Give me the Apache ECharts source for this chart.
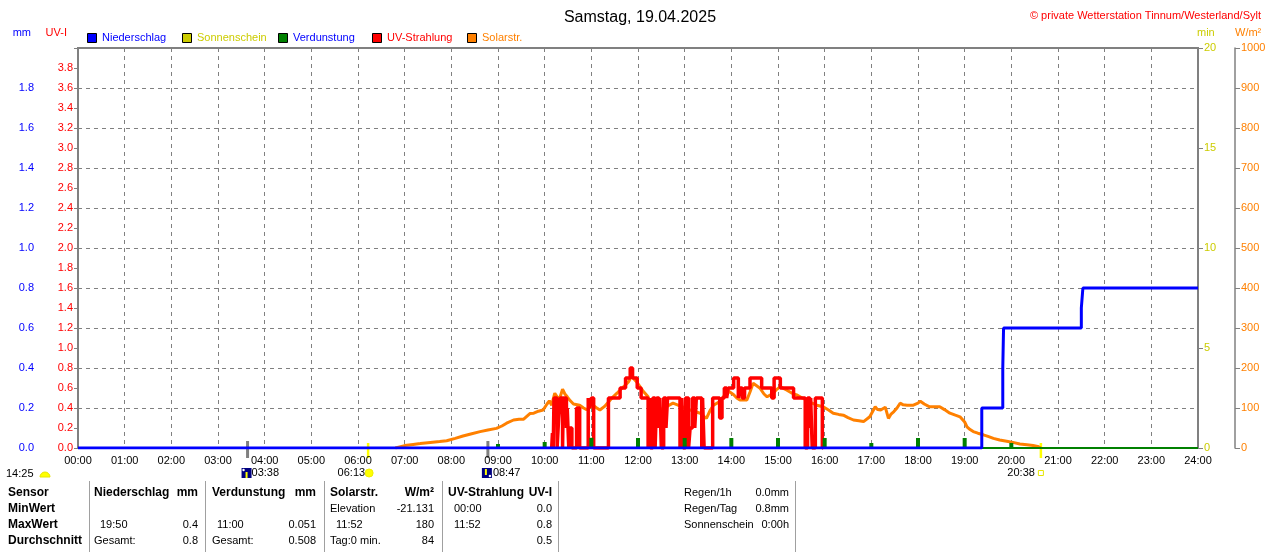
<!DOCTYPE html>
<html><head><meta charset="utf-8">
<script src="https://cdn.jsdelivr.net/npm/echarts@6/dist/echarts.min.js"></script>
<style>html,body{margin:0;padding:0;background:#fff}#c{width:1280px;height:552px}</style>
</head><body><div id="c"></div>
<script>
// ---------- data ----------
const xTickLabels = ['00:00','01:00','02:00','03:00','04:00','05:00','06:00','07:00','08:00','09:00','10:00','11:00','12:00','13:00','14:00','15:00','16:00','17:00','18:00','19:00','20:00','21:00','22:00','23:00','24:00'];

// Niederschlag (cumulative, mm)
const precipTimes  = ['00:00','19:22','19:49','19:50','21:30','21:32','24:00'];
const precipValues = [0, 0.2, 0.4, 0.6, 0.7, 0.8, 0.8];

// Verdunstung (hourly, mm)
const evapTimes  = ['09:00','10:00','11:00','12:00','13:00','14:00','15:00','16:00','17:00','18:00','19:00','20:00'];
const evapValues = [0.02, 0.03, 0.051, 0.05, 0.05, 0.05, 0.05, 0.05, 0.025, 0.05, 0.05, 0.025];

// Solarstrahlung (W/m²)
const solarTimes  = ['06:48','06:50','07:00','07:11','07:20','07:33','07:45','07:54','08:05','08:15','08:25','08:37','08:47','08:58','09:05','09:11','09:20','09:27','09:33','09:41','09:46','09:52','09:58','10:03','10:06','10:09','10:13','10:17','10:20','10:23','10:26','10:29','10:33','10:37','10:45','10:50','10:54','11:02','11:07','11:11','11:17','11:22','11:28','11:33','11:37','11:43','11:48','11:52','11:55','11:58','12:03','12:07','12:13','12:17','12:22','12:28','12:36','12:45','12:53','13:02','13:10','13:20','13:24','13:28','13:33','13:37','13:45','13:50','13:54','13:58','14:03','14:07','14:11','14:20','14:24','14:28','14:33','14:37','14:42','14:46','14:54','14:58','15:03','15:07','15:11','15:17','15:24','15:30','15:37','15:44','15:50','15:58','16:05','16:11','16:18','16:24','16:30','16:37','16:44','16:50','16:58','17:05','17:08','17:12','17:18','17:20','17:22','17:25','17:29','17:33','17:37','17:41','17:46','17:54','18:00','18:03','18:08','18:15','18:22','18:28','18:34','18:41','18:48','18:54','19:00','19:03','19:07','19:11','19:17','19:24','19:30','19:37','19:45','19:54','20:02','20:11','20:20','20:28','20:34','20:36','20:38'];
const solarValues = [0,5,6,9,11,14,16,18,24,30,35,41,45,49,55,62,70,72,72,86,87,92,95,110,118,107,137,125,128,147,135,128,118,110,107,100,96,107,100,95,104,115,128,137,145,156,166,180,172,166,152,141,128,99,97,95,103,112,106,99,93,87,80,74,95,107,116,128,145,140,133,125,120,120,140,162,155,149,135,128,137,146,153,149,145,138,133,126,120,112,107,103,95,87,84,82,76,70,68,66,78,103,96,95,102,88,74,84,91,100,112,108,107,107,112,117,110,103,103,103,96,87,82,78,65,53,46,41,37,33,29,24,20,17,14,10,8,6,4,3,0];

// UV-Strahlung (UV-I)
const uvTimes  = ['10:09','10:10','10:11','10:12','10:16','10:18','10:20','10:23','10:24','10:28','10:29','10:31','10:32','10:35','10:41','10:45','10:56','10:58','11:00','11:03','11:22','11:37','11:44','11:50','11:53','11:59','12:04','12:13','12:15','12:16','12:19','12:22','12:24','12:27','12:28','12:30','12:33','12:36','12:38','12:54','12:56','12:58','13:01','13:05','13:07','13:10','13:13','13:15','13:22','13:23','13:25','13:36','13:45','13:48','13:51','13:54','13:56','14:03','14:09','14:11','14:14','14:17','14:24','14:39','14:52','14:55','15:03','15:20','15:35','15:38','15:41','15:42','15:44','15:48','15:57','15:58'];
const uvValues = [0,0.15,0,0.5,0,0.3,0.5,0,0.5,0.2,0.4,0,0.2,0,0.4,0,0.5,0.4,0.5,0,0.5,0.6,0.7,0.8,0.7,0.6,0.5,0,0.5,0,0.5,0,0.5,0.2,0.5,0,0.5,0.2,0.5,0,0.5,0,0.5,0,0.2,0.5,0.2,0.5,0,0.5,0,0.5,0.3,0.5,0.6,0.5,0.6,0.7,0.5,0.6,0.5,0.6,0.7,0.6,0.5,0.7,0.6,0.5,0,0.5,0.2,0.5,0,0.5,0,0];

// astronomical events
const dayLength = '14:25';
const moonrise = '03:38', sunrise = '06:13', moonset = '08:47', sunset = '20:38';

// ---------- helpers ----------
const toMin = s => { const p = s.split(':').map(Number); return p[0] * 60 + p[1]; };
const pairs = (ts, vs) => ts.map((t, i) => [toMin(t), vs[i]]);
const F = '"Liberation Sans", Arial, sans-serif';
const GRAY = '#808080';

const chart = echarts.init(document.getElementById('c'));

const option = {
  animation: false,
  backgroundColor: '#fff',
  title: [
    { text: 'Samstag, 19.04.2025', left: 'center', top: 5,
      textStyle: { fontSize: 16, fontWeight: 'normal', color: '#000', fontFamily: F } },
    { text: '© private Wetterstation Tinnum/Westerland/Sylt', right: 14, top: 5,
      textStyle: { fontSize: 11, fontWeight: 'normal', color: '#ff0000', fontFamily: F } }
  ],
  grid: { left: 78, right: 82, top: 48, bottom: 104, show: true, borderColor: GRAY, borderWidth: 2 },
  xAxis: {
    type: 'value', min: 0, max: 1440, interval: 60,
    axisLine: { show: false }, axisTick: { show: false },
    axisLabel: { color: '#000', fontSize: 11, fontFamily: F, margin: 7, showMinLabel: true, showMaxLabel: true,
      formatter: v => xTickLabels[Math.round(v / 60)] },
    splitLine: { show: true, lineStyle: { color: GRAY, type: [4, 4], width: 1 } }
  },
  yAxis: [
    { type: 'value', position: 'left', offset: 38, min: 0, max: 2, interval: 0.2,
      axisLine: { show: true, lineStyle: { color: GRAY, width: 2 } },
      axisTick: { show: true, length: 4, lineStyle: { color: GRAY } },
      axisLabel: { color: '#0000ff', fontSize: 11, fontFamily: F, margin: 6, formatter: v => v > 1.95 ? '' : v.toFixed(1) },
      splitLine: { show: true, lineStyle: { color: GRAY, type: [4, 4], width: 1 } } },
    { type: 'value', position: 'left', offset: 0, min: 0, max: 4, interval: 0.2,
      axisLine: { show: true, lineStyle: { color: GRAY, width: 2 } },
      axisTick: { show: true, length: 4, lineStyle: { color: GRAY } },
      axisLabel: { color: '#ff0000', fontSize: 11, fontFamily: F, margin: 5, formatter: v => v > 3.95 ? '' : v.toFixed(1) },
      splitLine: { show: false } },
    { type: 'value', position: 'right', offset: 0, min: 0, max: 20, interval: 5,
      axisLine: { show: true, lineStyle: { color: GRAY, width: 2 } },
      axisTick: { show: true, length: 5, lineStyle: { color: GRAY } },
      axisLabel: { color: '#cccc00', fontSize: 11, fontFamily: F, margin: 6, formatter: v => String(v) },
      splitLine: { show: false } },
    { type: 'value', position: 'right', offset: 37, min: 0, max: 1000, interval: 100,
      axisLine: { show: true, lineStyle: { color: GRAY, width: 1.5 } },
      axisTick: { show: true, length: 5, lineStyle: { color: GRAY } },
      axisLabel: { color: '#ff8000', fontSize: 11, fontFamily: F, margin: 6, formatter: v => String(v) },
      splitLine: { show: false } }
  ],
  series: [
    { name: 'Solarstr.', type: 'line', yAxisIndex: 3, showSymbol: false, z: 2,
      data: pairs(solarTimes, solarValues),
      lineStyle: { color: '#ff8000', width: 3 }, itemStyle: { color: '#ff8000' } },
    { name: 'UV-Strahlung', type: 'line', yAxisIndex: 1, showSymbol: false, step: 'end', z: 3,
      data: pairs(uvTimes, uvValues),
      lineStyle: { color: '#ff0000', width: 3.5 }, itemStyle: { color: '#ff0000' } },
    { name: 'Verdunstung', type: 'bar', yAxisIndex: 0, barWidth: 4, z: 4,
      data: pairs(evapTimes, evapValues),
      itemStyle: { color: '#008000' },
      markLine: { silent: true, symbol: 'none', label: { show: false },
        lineStyle: { color: '#008000', width: 2, type: 'solid' }, data: [{ yAxis: 0 }] } },
    { name: 'Niederschlag', type: 'line', yAxisIndex: 0, showSymbol: false, step: 'end', z: 5,
      data: pairs(precipTimes, precipValues),
      lineStyle: { color: '#0000ff', width: 3 }, itemStyle: { color: '#0000ff' } }
  ]
};
chart.setOption(option);

// ---------- decorations (axis units, legend, astro markers, table) ----------
const px = t => chart.convertToPixel({ xAxisIndex: 0 }, toMin(t));
const g = [];
const txt = (x, y, s, color, align, bold, size) => g.push({
  type: 'text', x: x, y: y, silent: true,
  style: { text: s, fill: color || '#000', font: (bold ? 'bold ' : '') + (size || 11) + 'px ' + F,
    align: align || 'left', verticalAlign: 'middle' } });

// axis unit labels
txt(31, 33, 'mm', '#0000ff', 'right');
txt(67, 33, 'UV-I', '#ff0000', 'right');
txt(1197, 33, 'min', '#cccc00', 'left');
txt(1235, 33, 'W/m²', '#ff8000', 'left');

// legend
const legendItems = [
  ['Niederschlag', '#0000ff', '#0000ff', 87],
  ['Sonnenschein', '#cccc00', '#cccc00', 182],
  ['Verdunstung', '#008000', '#0000ff', 278],
  ['UV-Strahlung', '#ff0000', '#ff0000', 372],
  ['Solarstr.', '#ff8000', '#ff8000', 467]
];
legendItems.forEach(it => {
  g.push({ type: 'rect', silent: true, shape: { x: it[3] + 0.5, y: 33.5, width: 9, height: 9 },
    style: { fill: it[1], stroke: '#000', lineWidth: 1 } });
  txt(it[3] + 15, 38, it[0], it[2]);
});

// astro markers below the time axis
const xMr = px(moonrise), xSr = px(sunrise), xMs = px(moonset), xSs = px(sunset);
[[xMr, GRAY, 3, 441], [xMs, GRAY, 3, 441], [xSr, '#ffff00', 2.5, 443], [xSs, '#ffff00', 2.5, 443]].forEach(m => {
  g.push({ type: 'line', silent: true, shape: { x1: m[0], y1: m[3], x2: m[0], y2: 458 },
    style: { stroke: m[1], lineWidth: m[2] } });
});
// day length with half sun
txt(6, 474, dayLength, '#000');
g.push({ type: 'sector', silent: true, shape: { cx: 45, cy: 477, r: 5, startAngle: Math.PI, endAngle: Math.PI * 2 },
  style: { fill: '#ffff00', stroke: '#e6e600', lineWidth: 1 } });
// moonrise
g.push({ type: 'rect', silent: true, shape: { x: xMr - 6, y: 468, width: 10, height: 10 }, style: { fill: '#000080' } });
g.push({ type: 'rect', silent: true, shape: { x: xMr - 2, y: 472, width: 2, height: 6 }, style: { fill: '#ffff00' } });
g.push({ type: 'circle', silent: true, shape: { cx: xMr - 4, cy: 470, r: 1.2 }, style: { fill: '#ffffff' } });
txt(xMr + 4, 473, moonrise, '#000');
// sunrise
txt(xSr - 3, 473, sunrise, '#000', 'right');
g.push({ type: 'circle', silent: true, shape: { cx: xSr + 1, cy: 473, r: 4 }, style: { fill: '#ffff00', stroke: '#f0f000', lineWidth: 1 } });
// moonset
g.push({ type: 'rect', silent: true, shape: { x: xMs - 6, y: 468, width: 10, height: 10 }, style: { fill: '#000080' } });
g.push({ type: 'rect', silent: true, shape: { x: xMs - 3, y: 469, width: 2, height: 6 }, style: { fill: '#ffff00' } });
g.push({ type: 'circle', silent: true, shape: { cx: xMs + 2, cy: 476, r: 1.2 }, style: { fill: '#ffffff' } });
txt(xMs + 5, 473, moonset, '#000');
// sunset
txt(xSs - 6, 473, sunset, '#000', 'right');
g.push({ type: 'rect', silent: true, shape: { x: xSs - 2.5, y: 470.5, width: 5, height: 5 }, style: { fill: '#fff', stroke: '#e6e600', lineWidth: 1 } });

// table separators
[89, 205, 324, 442, 558, 795].forEach(x => g.push({ type: 'line', silent: true,
  shape: { x1: x + 0.5, y1: 481, x2: x + 0.5, y2: 552 }, style: { stroke: '#a0a0a0', lineWidth: 1 } }));

// table texts
const rows = [493, 509, 525, 541];
const table = [
  [8, 0, 'Sensor', 'left', 1], [8, 1, 'MinWert', 'left', 1], [8, 2, 'MaxWert', 'left', 1], [8, 3, 'Durchschnitt', 'left', 1],
  [94, 0, 'Niederschlag', 'left', 1], [198, 0, 'mm', 'right', 1],
  [100, 2, '19:50', 'left'], [198, 2, '0.4', 'right'],
  [94, 3, 'Gesamt:', 'left'], [198, 3, '0.8', 'right'],
  [212, 0, 'Verdunstung', 'left', 1], [316, 0, 'mm', 'right', 1],
  [217, 2, '11:00', 'left'], [316, 2, '0.051', 'right'],
  [212, 3, 'Gesamt:', 'left'], [316, 3, '0.508', 'right'],
  [330, 0, 'Solarstr.', 'left', 1], [434, 0, 'W/m²', 'right', 1],
  [330, 1, 'Elevation', 'left'], [434, 1, '-21.131', 'right'],
  [336, 2, '11:52', 'left'], [434, 2, '180', 'right'],
  [330, 3, 'Tag:0 min.', 'left'], [434, 3, '84', 'right'],
  [448, 0, 'UV-Strahlung', 'left', 1], [552, 0, 'UV-I', 'right', 1],
  [454, 1, '00:00', 'left'], [552, 1, '0.0', 'right'],
  [454, 2, '11:52', 'left'], [552, 2, '0.8', 'right'],
  [552, 3, '0.5', 'right'],
  [684, 0, 'Regen/1h', 'left'], [789, 0, '0.0mm', 'right'],
  [684, 1, 'Regen/Tag', 'left'], [789, 1, '0.8mm', 'right'],
  [684, 2, 'Sonnenschein', 'left'], [789, 2, '0:00h', 'right']
];
table.forEach(r => txt(r[0], rows[r[1]], r[2], '#000', r[3], !!r[4], r[4] ? 12 : 11));

chart.setOption({ graphic: { elements: g } });
</script>
</body></html>
